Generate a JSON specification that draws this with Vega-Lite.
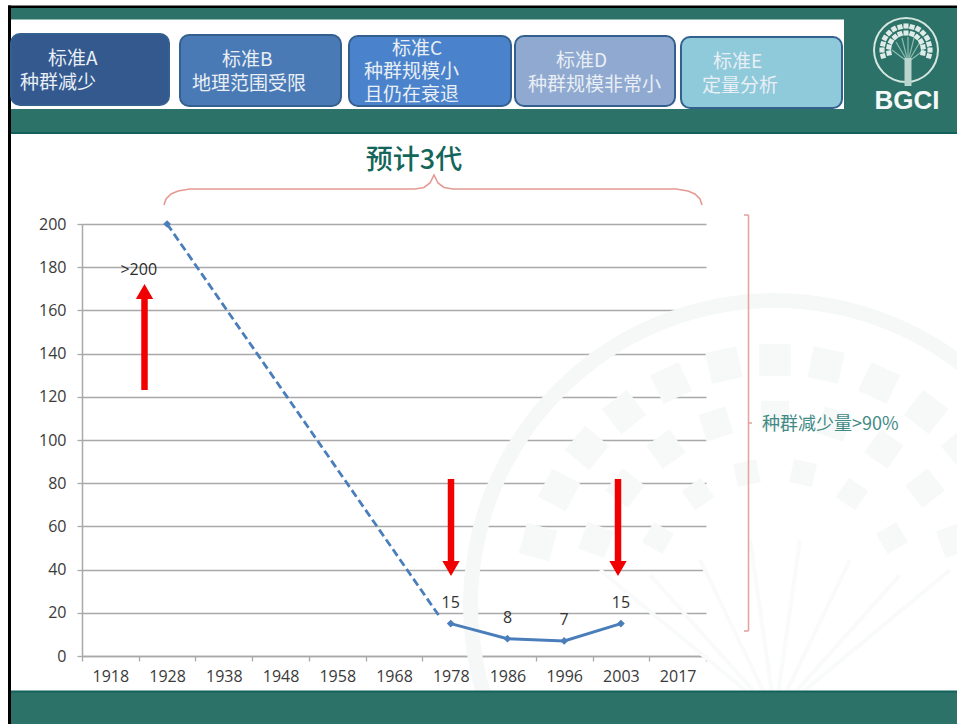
{
  "$schema": "https://vega.github.io/schema/vega-lite/v6.json",
  "width": 624,
  "height": 432,
  "autosize": "none",
  "padding": {"left": 82, "top": 224, "right": 251, "bottom": 68},
  "background": "#ffffff",
  "config": {"view": {"stroke": null}},
  "resolve": {"scale": {"x": "independent", "y": "independent"}},
  "layer": [
    {
      "encoding": {
        "x": {"field": "x", "type": "quantitative", "scale": {"domain": [0, 957], "range": [-82, 875]}, "axis": null},
        "y": {"field": "y", "type": "quantitative", "scale": {"domain": [0, 724], "range": [-224, 500]}, "axis": null}
      },
      "resolve": {"scale": {"color": "independent"}},
      "layer": [
        {
          "data": {"values": [{"x": 775, "y": 605}]},
          "mark": {"type": "arc", "radius": 312, "radius2": 297, "theta": 0, "theta2": 6.2832, "fill": "#f6f8f8"}
        },
        {
          "data": {"values": [
            {"x": 775, "y": 715, "x2": 600, "y2": 570}, {"x": 775, "y": 715, "x2": 650, "y2": 575},
            {"x": 775, "y": 715, "x2": 700, "y2": 560}, {"x": 775, "y": 715, "x2": 750, "y2": 540},
            {"x": 775, "y": 715, "x2": 800, "y2": 540}, {"x": 775, "y": 715, "x2": 850, "y2": 560},
            {"x": 775, "y": 715, "x2": 900, "y2": 575}, {"x": 775, "y": 715, "x2": 950, "y2": 570}
          ]},
          "mark": {"type": "rule", "stroke": "#f9fafa", "strokeWidth": 4},
          "encoding": {"x2": {"field": "x2"}, "y2": {"field": "y2"}}
        },
        {
          "data": {"values": [
            {"x": 538, "y": 542, "a": -75, "s": 1000}, {"x": 559, "y": 490, "a": -62, "s": 1000}, {"x": 587, "y": 448, "a": -50, "s": 1000},
            {"x": 624, "y": 412, "a": -38, "s": 1000}, {"x": 671, "y": 383, "a": -25, "s": 1000}, {"x": 724, "y": 365, "a": -12, "s": 1000},
            {"x": 775, "y": 360, "a": 0, "s": 1000}, {"x": 826, "y": 365, "a": 12, "s": 1000}, {"x": 879, "y": 383, "a": 25, "s": 1000},
            {"x": 926, "y": 412, "a": 38, "s": 1000}, {"x": 963, "y": 448, "a": 50, "s": 1000},
            {"x": 596, "y": 540, "a": -70, "s": 800}, {"x": 625, "y": 488, "a": -52, "s": 800}, {"x": 666, "y": 449, "a": -35, "s": 800},
            {"x": 716, "y": 424, "a": -18, "s": 800}, {"x": 775, "y": 415, "a": 0, "s": 800}, {"x": 834, "y": 424, "a": 18, "s": 800},
            {"x": 884, "y": 449, "a": 35, "s": 800}, {"x": 925, "y": 488, "a": 52, "s": 800}, {"x": 954, "y": 540, "a": 70, "s": 800},
            {"x": 658, "y": 538, "a": -60, "s": 550}, {"x": 698, "y": 494, "a": -35, "s": 550}, {"x": 747, "y": 473, "a": -12, "s": 550},
            {"x": 803, "y": 473, "a": 12, "s": 550}, {"x": 852, "y": 494, "a": 35, "s": 550}, {"x": 892, "y": 538, "a": 60, "s": 550}
          ]},
          "mark": {"type": "point", "shape": "square", "filled": true, "opacity": 1, "color": "#f7f9f9"},
          "encoding": {
            "angle": {"field": "a", "type": "quantitative", "scale": {"domain": [-180, 180], "range": [-180, 180]}, "legend": null},
            "size": {"field": "s", "type": "quantitative", "scale": {"domain": [0, 1000], "range": [0, 1000]}, "legend": null}
          }
        },
        {
          "data": {"values": [
            {"part": "teal", "x": 11, "x2": 957, "y": 8, "y2": 132},
            {"part": "tealEdge", "x": 11, "x2": 957, "y": 132, "y2": 134},
            {"part": "white", "x": 11, "x2": 844, "y": 19.5, "y2": 109},
            {"part": "teal", "x": 11, "x2": 957, "y": 692, "y2": 724},
            {"part": "tealEdge", "x": 11, "x2": 957, "y": 690.5, "y2": 692.5},
            {"part": "black", "x": 8, "x2": 957, "y": 5.5, "y2": 8},
            {"part": "black", "x": 8, "x2": 11, "y": 5.5, "y2": 724}
          ]},
          "mark": {"type": "rect"},
          "encoding": {
            "x2": {"field": "x2"},
            "y2": {"field": "y2"},
            "color": {"field": "part", "type": "nominal", "legend": null,
              "scale": {"domain": ["teal", "tealEdge", "white", "black"], "range": ["#2c7268", "#12615a", "#ffffff", "#000000"]}}
          }
        },
        {
          "data": {"values": [
            {"criterion": "A", "x": 11, "x2": 169, "y": 34, "y2": 105},
            {"criterion": "B", "x": 180, "x2": 341, "y": 35, "y2": 106},
            {"criterion": "C", "x": 349, "x2": 511, "y": 36, "y2": 106},
            {"criterion": "D", "x": 515, "x2": 675, "y": 36, "y2": 106},
            {"criterion": "E", "x": 681, "x2": 842, "y": 37, "y2": 108}
          ]},
          "mark": {"type": "rect", "cornerRadius": 9, "strokeWidth": 2, "stroke": "#34608f"},
          "encoding": {
            "x2": {"field": "x2"},
            "y2": {"field": "y2"},
            "color": {"field": "criterion", "type": "nominal", "legend": null,
              "scale": {"domain": ["A", "B", "C", "D", "E"], "range": ["#33598f", "#4a7ab5", "#4a83cc", "#8fa9d0", "#8fcadb"]}}
          }
        },
        {
          "data": {"values": [
            {"x": 48, "y": 59, "t": "标准A"}, {"x": 20, "y": 83, "t": "种群减少"},
            {"x": 222, "y": 60, "t": "标准B"}, {"x": 192, "y": 84, "t": "地理范围受限"},
            {"x": 392, "y": 49, "t": "标准C"}, {"x": 364, "y": 72, "t": "种群规模小"}, {"x": 364, "y": 95, "t": "且仍在衰退"},
            {"x": 556, "y": 61, "t": "标准D"}, {"x": 528, "y": 85, "t": "种群规模非常小"},
            {"x": 713, "y": 62, "t": "标准E"}, {"x": 702, "y": 86, "t": "定量分析"}
          ]},
          "mark": {"type": "text", "align": "left", "baseline": "middle", "font": "Noto Sans CJK SC", "fontSize": 19, "color": "#e9eff5"},
          "encoding": {"text": {"field": "t"}}
        },
        {
          "data": {"values": [{"x": 906, "y": 50}]},
          "mark": {"type": "arc", "radius": 33, "radius2": 31, "theta": 0, "theta2": 6.2832, "fill": "#d4e6e0"}
        },
        {
          "data": {"values": [
            {"x": 908, "y": 62, "x2": 892, "y2": 50}, {"x": 908, "y": 62, "x2": 896, "y2": 42},
            {"x": 908, "y": 62, "x2": 902, "y2": 38}, {"x": 908, "y": 62, "x2": 908, "y2": 37},
            {"x": 908, "y": 62, "x2": 914, "y2": 38}, {"x": 908, "y": 62, "x2": 920, "y2": 42},
            {"x": 908, "y": 62, "x2": 924, "y2": 50}
          ]},
          "mark": {"type": "rule", "stroke": "#8dbdb0", "strokeWidth": 1.2},
          "encoding": {"x2": {"field": "x2"}, "y2": {"field": "y2"}}
        },
        {
          "data": {"values": [{"x": 908, "y": 58, "y2": 86}]},
          "mark": {"type": "rule", "stroke": "#b9d5cd", "strokeWidth": 7},
          "encoding": {"y2": {"field": "y2"}}
        },
        {
          "data": {"values": [
            {"x": 883, "y": 56, "a": -105}, {"x": 882, "y": 50, "a": -90}, {"x": 883, "y": 44, "a": -75}, {"x": 885, "y": 38, "a": -60},
            {"x": 889, "y": 33, "a": -45}, {"x": 894, "y": 29, "a": -30}, {"x": 900, "y": 27, "a": -15}, {"x": 906, "y": 26, "a": 0},
            {"x": 912, "y": 27, "a": 15}, {"x": 918, "y": 29, "a": 30}, {"x": 923, "y": 33, "a": 45}, {"x": 927, "y": 38, "a": 60},
            {"x": 929, "y": 44, "a": 75}, {"x": 930, "y": 50, "a": 90}, {"x": 929, "y": 56, "a": 105},
            {"x": 889, "y": 53, "a": -100}, {"x": 889, "y": 47, "a": -80}, {"x": 891, "y": 41.5, "a": -60}, {"x": 895, "y": 37, "a": -40},
            {"x": 900, "y": 34, "a": -20}, {"x": 906, "y": 33, "a": 0}, {"x": 912, "y": 34, "a": 20}, {"x": 917, "y": 37, "a": 40},
            {"x": 921, "y": 41.5, "a": 60}, {"x": 923, "y": 47, "a": 80}, {"x": 923, "y": 53, "a": 100}
          ]},
          "mark": {"type": "point", "shape": "square", "filled": true, "opacity": 0.9, "size": 26, "color": "#f2f8f6"},
          "encoding": {
            "angle": {"field": "a", "type": "quantitative", "scale": {"domain": [-180, 180], "range": [-180, 180]}, "legend": null}
          }
        },
        {
          "data": {"values": [{"x": 907, "y": 101, "t": "BGCI"}]},
          "mark": {"type": "text", "align": "center", "baseline": "middle", "font": "Liberation Sans", "fontWeight": "bold", "fontSize": 26, "color": "#f4f9f8"},
          "encoding": {"text": {"field": "t"}}
        }
      ]
    },
    {
      "data": {"values": [
        {"year": "1928", "population": 200, "label": ""},
        {"year": "1978", "population": 15, "label": "15"},
        {"year": "1986", "population": 8, "label": "8"},
        {"year": "1996", "population": 7, "label": "7"},
        {"year": "2003", "population": 15, "label": "15"}
      ]},
      "encoding": {
        "x": {
          "field": "year", "type": "ordinal",
          "scale": {"type": "band", "paddingInner": 0, "paddingOuter": 0,
            "domain": ["1918", "1928", "1938", "1948", "1958", "1968", "1978", "1986", "1996", "2003", "2017"]},
          "axis": {
            "title": null, "labelAngle": 0, "tickBand": "extent", "grid": false,
            "domainColor": "#a9a9a9", "domainWidth": 1.5, "tickColor": "#a9a9a9", "tickWidth": 1.3, "tickSize": 5,
            "labelFont": "Open Sans", "labelFontSize": 16, "labelColor": "#3a3a3a", "labelPadding": 7
          }
        },
        "y": {
          "field": "population", "type": "quantitative",
          "scale": {"domain": [0, 200], "nice": false},
          "axis": {
            "title": null, "values": [0, 20, 40, 60, 80, 100, 120, 140, 160, 180, 200],
            "grid": true, "gridColor": "#a9a9a9", "gridWidth": 1.4,
            "domainColor": "#a9a9a9", "domainWidth": 1.5, "tickColor": "#a9a9a9", "tickWidth": 1.3, "tickSize": 5,
            "labelFont": "Open Sans", "labelFontSize": 16, "labelColor": "#3a3a3a", "labelPadding": 11
          }
        }
      },
      "layer": [
        {
          "transform": [{"filter": "datum.year !== '1928'"}],
          "mark": {"type": "line", "color": "#4a7ebb", "strokeWidth": 3}
        },
        {
          "mark": {"type": "point", "shape": "diamond", "filled": true, "opacity": 1, "size": 60, "color": "#4a7ebb"}
        },
        {
          "mark": {"type": "text", "baseline": "middle", "dy": -20.5, "font": "Open Sans", "fontSize": 16, "color": "#333333"},
          "encoding": {"text": {"field": "label"}}
        }
      ]
    },
    {
      "encoding": {
        "x": {"field": "position", "type": "quantitative", "scale": {"domain": [0, 11]}, "axis": null},
        "y": {"field": "population", "type": "quantitative", "scale": {"domain": [0, 200], "nice": false}, "axis": null}
      },
      "layer": [
        {
          "data": {"values": [{"position": 1.5, "population": 200}, {"position": 6.31, "population": 18}]},
          "mark": {"type": "line", "color": "#4a7ebb", "strokeWidth": 2.8, "strokeDash": [8, 4]}
        },
        {
          "data": {"values": [{"position": 1.0, "population": 178.5, "t": ">200"}]},
          "mark": {"type": "text", "baseline": "middle", "font": "Open Sans", "fontSize": 16, "color": "#2b2b2b"},
          "encoding": {"text": {"field": "t"}}
        }
      ]
    },
    {
      "encoding": {
        "x": {"field": "x", "type": "quantitative", "scale": {"domain": [0, 957], "range": [-82, 875]}, "axis": null},
        "y": {"field": "y", "type": "quantitative", "scale": {"domain": [0, 724], "range": [-224, 500]}, "axis": null}
      },
      "layer": [
        {
          "data": {"values": [
            {"x": 144.5, "y": 390, "y2": 298},
            {"x": 451, "y": 479, "y2": 562},
            {"x": 618, "y": 479, "y2": 562}
          ]},
          "mark": {"type": "rule", "stroke": "#f00000", "strokeWidth": 6.5},
          "encoding": {"y2": {"field": "y2"}}
        },
        {
          "data": {"values": [
            {"x": 144.5, "y": 291.5, "direction": "up"},
            {"x": 451, "y": 568.5, "direction": "down"},
            {"x": 618, "y": 568.5, "direction": "down"}
          ]},
          "mark": {"type": "point", "filled": true, "opacity": 1, "size": 300, "color": "#f00000"},
          "encoding": {
            "shape": {"field": "direction", "type": "nominal", "legend": null,
              "scale": {"domain": ["up", "down"], "range": ["triangle-up", "triangle-down"]}}
          }
        },
        {
          "data": {"values": [
            {"x": 164, "y": 205}, {"x": 166, "y": 199}, {"x": 171, "y": 194}, {"x": 178, "y": 191}, {"x": 190, "y": 189},
            {"x": 415, "y": 189}, {"x": 424, "y": 187.5}, {"x": 430, "y": 183}, {"x": 434, "y": 175},
            {"x": 438, "y": 183}, {"x": 444, "y": 187.5}, {"x": 453, "y": 189}, {"x": 676, "y": 189},
            {"x": 688, "y": 191}, {"x": 695, "y": 194}, {"x": 700, "y": 199}, {"x": 702, "y": 205}
          ]},
          "mark": {"type": "line", "color": "#e59a94", "strokeWidth": 1.6}
        },
        {
          "data": {"values": [
            {"x": 748.5, "y": 215, "x2": 748.5, "y2": 631},
            {"x": 744, "y": 215, "x2": 748.5, "y2": 215},
            {"x": 744, "y": 631, "x2": 748.5, "y2": 631},
            {"x": 748.5, "y": 423, "x2": 752, "y2": 423}
          ]},
          "mark": {"type": "rule", "stroke": "#e3a5a2", "strokeWidth": 1.6},
          "encoding": {"x2": {"field": "x2"}, "y2": {"field": "y2"}}
        },
        {
          "data": {"values": [{"x": 414, "y": 161, "t": "预计3代"}]},
          "mark": {"type": "text", "align": "center", "baseline": "middle", "font": "Noto Sans CJK SC", "fontWeight": 500, "fontSize": 27, "color": "#14665a"},
          "encoding": {"text": {"field": "t"}}
        },
        {
          "data": {"values": [{"x": 762, "y": 425, "t": "种群减少量>90%"}]},
          "mark": {"type": "text", "align": "left", "baseline": "middle", "font": "Noto Sans CJK SC", "fontSize": 18, "color": "#3f8a85"},
          "encoding": {"text": {"field": "t"}}
        }
      ]
    }
  ]
}
